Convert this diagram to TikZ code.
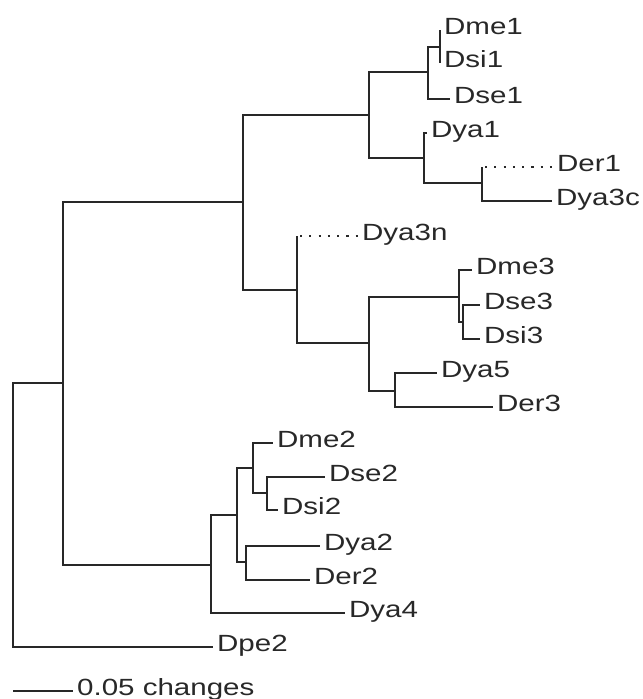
\documentclass[tikz,border=0pt]{standalone}
\usepackage{fontspec}
\setmainfont{Liberation Sans}[FakeStretch=1.26]
\usepackage{tikz}
\definecolor{treegray}{RGB}{40,40,40}

\begin{document}
\begin{tikzpicture}[x=0.03cm,y=-0.03cm,line width=2.1pt,color=treegray,
  taxon/.style={anchor=west,inner xsep=2.5pt,inner ysep=0pt,text height=0.72em,text depth=0pt,font=\fontsize{20}{24}\selectfont},
  dotbranch/.style={line width=1.9pt,dash pattern=on 1.9pt off 6pt}]
\useasboundingbox (0,0) rectangle (642,699);
% internal nodes
\coordinate (R) at (13,515);
\coordinate (A) at (63,383);
\coordinate (B) at (243,202);
\coordinate (D) at (369,115);
\coordinate (E) at (428,72);
\coordinate (G) at (440,47);
\coordinate (F) at (424,158);
\coordinate (H) at (482,183);
\coordinate (I) at (297,290);
\coordinate (J) at (369,343);
\coordinate (K) at (459,297);
\coordinate (L) at (463,322);
\coordinate (M) at (395,391);
\coordinate (C) at (211,565);
\coordinate (N) at (237,515);
\coordinate (O) at (253,468);
\coordinate (P) at (267,493);
\coordinate (Q) at (246,562);
% taxa
\node[taxon] (dme1) at (440,30) {Dme1};
\node[taxon] (dsi1) at (440,63) {Dsi1};
\node[taxon] (dse1) at (450,99) {Dse1};
\node[taxon] (dya1) at (427,133) {Dya1};
\node[taxon] (der1) at (553,167) {Der1};
\node[taxon] (dya3c) at (552,201) {Dya3c};
\node[taxon] (dya3n) at (358,236) {Dya3n};
\node[taxon] (dme3) at (472,270) {Dme3};
\node[taxon] (dse3) at (480,305) {Dse3};
\node[taxon] (dsi3) at (480,339) {Dsi3};
\node[taxon] (dya5) at (437,373) {Dya5};
\node[taxon] (der3) at (493,407) {Der3};
\node[taxon] (dme2) at (273,443) {Dme2};
\node[taxon] (dse2) at (325,477) {Dse2};
\node[taxon] (dsi2) at (278,510) {Dsi2};
\node[taxon] (dya2) at (320,546) {Dya2};
\node[taxon] (der2) at (310,580) {Der2};
\node[taxon] (dya4) at (345,613) {Dya4};
\node[taxon] (dpe2) at (213,647) {Dpe2};
% branches
\foreach \p/\c in {R/A,R/dpe2.west,A/B,A/C,B/D,B/I,D/E,D/F,E/G,E/dse1.west,
  G/dme1.west,G/dsi1.west,F/dya1.west,F/H,H/dya3c.west,I/J,J/K,J/M,
  K/dme3.west,K/L,L/dse3.west,L/dsi3.west,M/dya5.west,M/der3.west,
  C/N,C/dya4.west,N/O,N/Q,O/dme2.west,O/P,P/dse2.west,P/dsi2.west,
  Q/dya2.west,Q/der2.west}
  \draw (\p) |- (\c);
\draw (H) -- ++(0,-16) coordinate (h1);
\draw[dotbranch] (h1) ++(3,0) -- (der1.west);
\draw (I) -- ++(0,-54) coordinate (i1);
\draw[dotbranch] (i1) ++(3,0) -- (dya3n.west);
% scale bar
\coordinate (s0) at (13,691);
\node[taxon] (scale) at (73,691) {0.05 changes};
\draw (s0) -- (scale.west);
\end{tikzpicture}
\end{document}
